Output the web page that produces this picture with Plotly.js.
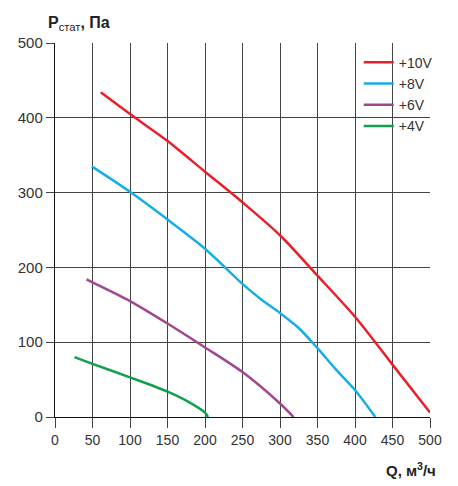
<!DOCTYPE html>
<html>
<head>
<meta charset="utf-8">
<script src="https://cdn.plot.ly/plotly-3.0.1.min.js"></script>
<style>html,body{margin:0;padding:0;background:#fff;}#chart{width:458px;height:486px;}</style>
</head>
<body>
<div id="chart"></div>
<script>
const seriesNames = ["+10V", "+8V", "+6V", "+4V"];
const seriesColors = ["#e8202a", "#17ade6", "#a0478f", "#10a050"];

const q10 = [61, 100, 150, 200, 250, 300, 350, 400, 450, 500];
const p10 = [434, 405, 369, 328, 287, 243, 189, 134, 70, 6];

const q8 = [49, 100, 150, 200, 250, 275, 300, 325, 350, 375, 400, 427];
const p8 = [335, 301, 264, 225, 178, 157, 139, 119, 92, 63, 36, 0];

const q6 = [42, 50, 100, 150, 200, 250, 300, 318];
const p6 = [184, 180, 155, 125, 93, 60, 18, 0];

const q4 = [26, 50, 100, 150, 175, 200, 204];
const p4 = [80, 71, 53, 34, 22, 6, 0];

const xTicks = [0, 50, 100, 150, 200, 250, 300, 350, 400, 450, 500];
const yTicks = [0, 100, 200, 300, 400, 500];

const xs = [q10, q8, q6, q4];
const ys = [p10, p8, p6, p4];

const traces = seriesNames.map((n, i) => ({
  x: xs[i], y: ys[i], name: n, type: 'scatter', mode: 'lines',
  line: {color: seriesColors[i], width: 2.5, shape: 'spline', smoothing: 0.8},
  hoverinfo: 'skip'
}));

const layout = {
  width: 458, height: 486,
  margin: {l: 55, r: 28, t: 43, b: 69},
  paper_bgcolor: '#fff', plot_bgcolor: '#fff',
  font: {family: 'Liberation Sans, Arial, sans-serif', color: '#333', size: 14},
  showlegend: true,
  legend: {x: 0.81, y: 0.99, xanchor: 'left', yanchor: 'top', bgcolor: 'rgba(0,0,0,0)',
           font: {size: 14, color: '#333'}, tracegroupgap: 0, itemwidth: 30},
  xaxis: {range: [0, 500], tickvals: xTicks, ticktext: xTicks.map(String),
          showgrid: true, gridcolor: '#444', gridwidth: 1,
          showline: true, linecolor: '#111', linewidth: 1.2, zeroline: false,
          ticks: 'outside', ticklen: 10, tickcolor: '#444', tickwidth: 1,
          tickfont: {size: 14, color: '#333'}, fixedrange: true},
  yaxis: {range: [0, 500], tickvals: yTicks, ticktext: yTicks.map(String),
          showgrid: true, gridcolor: '#444', gridwidth: 1,
          showline: true, linecolor: '#111', linewidth: 1.2, zeroline: false,
          ticks: 'outside', ticklen: 8, tickcolor: '#444', tickwidth: 1,
          tickfont: {size: 15, color: '#333'}, fixedrange: true},
  annotations: [
    {xref: 'paper', yref: 'paper', x: -0.025, y: 1.022, xanchor: 'left', yanchor: 'bottom',
     text: '<b>P</b><sub>стат</sub><b>, Па</b>', showarrow: false, font: {size: 16, color: '#222'}},
    {xref: 'paper', yref: 'paper', x: 1.02, y: -0.11, xanchor: 'right', yanchor: 'top',
     text: '<b>Q, м<sup>3</sup>/ч</b>', showarrow: false, font: {size: 15, color: '#222'}}
  ]
};

Plotly.newPlot('chart', traces, layout, {displayModeBar: false, staticPlot: true});
</script>
</body>
</html>
